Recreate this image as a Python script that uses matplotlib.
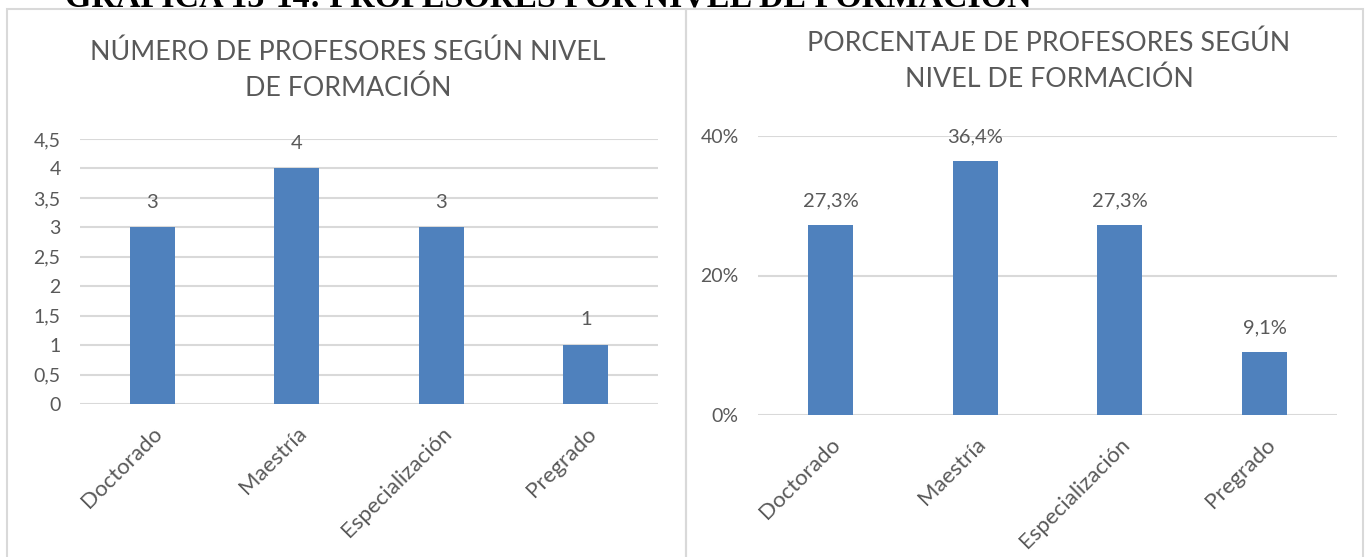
import matplotlib.pyplot as plt
from matplotlib.patches import Rectangle
from matplotlib.ticker import FuncFormatter

categories = ["Doctorado", "Maestría", "Especialización", "Pregrado"]
counts = [3, 4, 3, 1]
percents = [27.3, 36.4, 27.3, 9.1]
count_ticks = [0, 0.5, 1, 1.5, 2, 2.5, 3, 3.5, 4, 4.5]
pct_ticks = [0, 20, 40]

BAR = "#4F81BD"
TXT = "#595959"
GRID = "#D9D9D9"
FONT = "Lato"

W, H = 1366, 557
fig = plt.figure(figsize=(W / 100, H / 100), dpi=100)


def px_axes(x0, y0, x1, y1):
    # pixel box (top-left origin) -> figure fractions
    return fig.add_axes([x0 / W, 1 - y1 / H, (x1 - x0) / W, (y1 - y0) / H])


# chart borders
for bx0, bx1 in [(7, 686), (686, 1363)]:
    fig.patches.append(Rectangle((bx0 / W, -0.05), (bx1 - bx0) / W, 1.05 - 9 / H,
                                 transform=fig.transFigure, fill=False,
                                 edgecolor=GRID, linewidth=1.5))

# header caption, mostly cut off at the top (as in the source page)
fig.text(548 / W, 1 - 7 / H, "GRÁFICA 13-14: PROFESORES POR NIVEL DE FORMACIÓN",
         ha="center", va="baseline", fontsize=24.5, fontweight="bold",
         family="Liberation Serif", color="black")


def style(ax, ticks):
    for s in ax.spines.values():
        s.set_visible(False)
    ax.set_yticks(ticks)
    ax.yaxis.grid(True, color=GRID, linewidth=1.5)
    ax.set_axisbelow(True)
    ax.tick_params(length=0, labelsize=14, labelcolor=TXT, pad=14)
    ax.set_xlim(-0.5, 3.5)
    ax.set_xticks(range(len(categories)))
    ax.set_xticklabels(categories, rotation=45, ha="right", va="top",
                       rotation_mode="anchor", fontsize=16, color=TXT, family=FONT)


# left chart: counts
ax1 = px_axes(80, 139, 658, 404)
ax1.bar(range(len(categories)), counts, width=0.31, color=BAR, zorder=2)
ax1.set_ylim(0, 4.5)
style(ax1, count_ticks)
ax1.yaxis.set_major_formatter(FuncFormatter(lambda v, p: f"{v:g}".replace(".", ",")))
for lab in ax1.get_yticklabels():
    lab.set_family(FONT)
for i, v in enumerate(counts):
    ax1.annotate(f"{v}", (i, v), xytext=(0, 12), textcoords="offset points",
                 ha="center", va="bottom", fontsize=14.5, color=TXT, family=FONT)
fig.text(348 / W, 1 - 70 / H, "NÚMERO DE PROFESORES SEGÚN NIVEL\nDE FORMACIÓN",
         ha="center", va="center", fontsize=19.3, color=TXT, family=FONT,
         linespacing=1.5)

# right chart: percentages
ax2 = px_axes(758, 136, 1337, 415)
ax2.bar(range(len(categories)), percents, width=0.31, color=BAR, zorder=2)
ax2.set_ylim(0, 40)
style(ax2, pct_ticks)
ax2.yaxis.set_major_formatter(FuncFormatter(lambda v, p: f"{v:.0f}%"))
for lab in ax2.get_yticklabels():
    lab.set_family(FONT)
for i, v in enumerate(percents):
    ax2.annotate(f"{v:.1f}%".replace(".", ","), (i, v), xytext=(0, 11),
                 textcoords="offset points", ha="center", va="bottom",
                 fontsize=14.5, color=TXT, family=FONT)
fig.text(1049 / W, 1 - 61 / H, "PORCENTAJE DE PROFESORES SEGÚN\nNIVEL DE FORMACIÓN",
         ha="center", va="center", fontsize=19.3, color=TXT, family=FONT,
         linespacing=1.5)

fig.savefig("out.png", dpi=100)
